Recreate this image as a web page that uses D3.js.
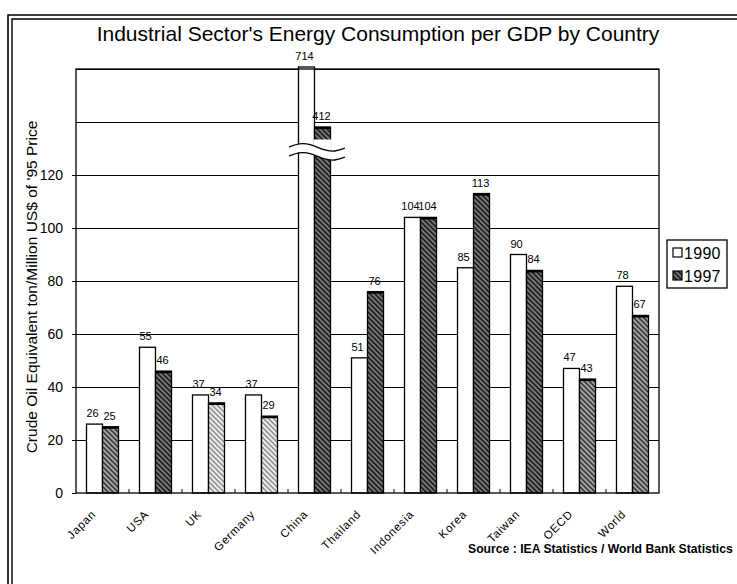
<!DOCTYPE html>
<html><head><meta charset="utf-8">
<script src="https://cdn.jsdelivr.net/npm/d3@7"></script>
<style>
body{margin:0;background:#fff}
svg{display:block}
text{font-family:"Liberation Sans",Arial,sans-serif;fill:#000}
</style>
</head><body>
<svg id="chart" width="737" height="584"></svg>
<script>
// Industrial energy intensity, 1990 vs 1997
const categories = ["Japan","USA","UK","Germany","China","Thailand","Indonesia","Korea","Taiwan","OECD","World"];
const values1990 = [26,55,37,37,714,51,104,85,90,47,78];
const values1997 = [25,46,34,29,412,76,104,113,84,43,67];
const seriesNames = ["1990","1997"];
const yTickValues = [0,20,40,60,80,100,120];
const gridValues = [20,40,60,80,100,120,140,160];
const titleText = "Industrial Sector's Energy Consumption per GDP by Country";
const yTitleText = "Crude Oil Equivalent ton/Million US$ of '95 Price";
const sourceText = "Source : IEA Statistics / World Bank Statistics";

// hatch density used for each 1997 bar
const shade1997 = ["mid","dark","light","light","dark","dark","dark","dark","dark","mid","mid"];

const svg = d3.select("#chart");
const P = {left:76, right:659, top:69, bottom:493};

// broken value axis: 0-160 linear, values beyond the break squeezed into the top strip
const yLow = d3.scaleLinear().domain([0,160]).range([P.bottom,P.top]);
const yHigh = d3.scaleLinear().domain([412,714]).range([127,67]);
const y = v => v <= 160 ? yLow(v) : yHigh(v);

const x = d3.scaleBand().domain(categories).range([P.left,P.right]);
const xs = d3.scaleBand().domain(seriesNames).range([10.5,42.5]);

// hatch patterns
const defs = svg.append("defs");
const pats = {
  dark:{bg:"#5a5a5a", line:"#1a1a1a", hi:"#b8b8b8"},
  mid:{bg:"#8a8a8a", line:"#333", hi:"#d8d8d8"},
  light:{bg:"#e4e4e4", line:"#888", hi:"#fff"}
};
Object.entries(pats).forEach(([k,c])=>{
  const p = defs.append("pattern").attr("id","hatch-"+k)
    .attr("patternUnits","userSpaceOnUse").attr("width",5).attr("height",5);
  p.append("rect").attr("width",5).attr("height",5).attr("fill",c.bg);
  p.append("path").attr("d","M-1,-1 L6,6 M-1,4 L1,6 M4,-1 L6,1").attr("stroke",c.line).attr("stroke-width",1.3);
  p.append("path").attr("d","M1.5,-1 L6,3.5 M-1,1.5 L3.5,6").attr("stroke",c.hi).attr("stroke-width",0.6);
});

// outer double frame (left and top)
const frame = svg.append("g").attr("stroke","#000").attr("fill","none");
frame.append("path").attr("d","M8,584 V15 H737").attr("stroke-width",1.6);
frame.append("path").attr("d","M12,584 V19 H737").attr("stroke-width",1.4);

// scale a text's font size so it spans the given width
function fitText(sel, width){
  const w = sel.node().getComputedTextLength();
  const fs = parseFloat(sel.attr("font-size"));
  sel.attr("font-size", fs*width/w);
}
const title = svg.append("text").attr("x",378).attr("y",41).attr("text-anchor","middle")
  .attr("font-size",20).text(titleText);
fitText(title, 563);

// gridlines
svg.append("g").selectAll("line").data(gridValues).join("line")
  .attr("x1",P.left).attr("x2",P.right)
  .attr("y1",d=>Math.round(yLow(d))+0.5).attr("y2",d=>Math.round(yLow(d))+0.5)
  .attr("stroke","#000").attr("stroke-width",1.1);

// y axis labels and ticks
const yAxis = d3.axisLeft(yLow).tickValues(yTickValues).tickSize(4).tickPadding(9).tickFormat(d3.format("d"));
const gy = svg.append("g").attr("transform",`translate(${P.left},0)`).call(yAxis);
gy.select(".domain").remove();
gy.selectAll("text").attr("font-size",14).attr("font-family","Liberation Sans, Arial, sans-serif");
gy.selectAll("line").attr("stroke","#000");

const yTitle = svg.append("text").attr("transform","translate(37,287) rotate(-90)")
  .attr("text-anchor","middle").attr("font-size",13).text(yTitleText);
fitText(yTitle, 333);

// bars
const groups = svg.append("g").selectAll("g").data(categories).join("g")
  .attr("transform",d=>`translate(${x(d)},0)`);

groups.append("rect").attr("class","b1990")
  .attr("x",xs("1990")).attr("width",xs.bandwidth())
  .attr("y",(d,i)=>y(values1990[i])).attr("height",(d,i)=>P.bottom-y(values1990[i]))
  .attr("fill","#fff").attr("stroke","#000").attr("stroke-width",1.3);

groups.append("rect").attr("class","b1997")
  .attr("x",xs("1997")).attr("width",xs.bandwidth())
  .attr("y",(d,i)=>y(values1997[i])).attr("height",(d,i)=>P.bottom-y(values1997[i]))
  .attr("fill",(d,i)=>`url(#hatch-${shade1997[i]})`).attr("stroke","#000").attr("stroke-width",1.3);
groups.append("line")
  .attr("x1",xs("1997")).attr("x2",xs("1997")+xs.bandwidth())
  .attr("y1",(d,i)=>y(values1997[i])+1).attr("y2",(d,i)=>y(values1997[i])+1)
  .attr("stroke","#000").attr("stroke-width",2.2);

// axis break across the China bars
const cx = x("China");
const breakTop = 139.5;
svg.append("rect").attr("x",cx+xs("1997")-1).attr("width",xs.bandwidth()+2)
  .attr("y",breakTop).attr("height",14).attr("fill","#fff");
const waveShape = [[0,0],[10,-4],[22,-3],[34,3],[46,5],[56,1]];
const waveX0 = cx + 1;
const wave = base => waveShape.map(([dx,dy])=>[waveX0+dx, base+dy]);
const line = d3.line().curve(d3.curveBasis);
const upper = wave(147), lower = wave(156);
svg.append("path")
  .attr("d", line(upper) + "L" + lower.slice().reverse().map(p=>p.join(",")).join("L") + "Z")
  .attr("fill","#fff");
[upper, lower].forEach(w=>svg.append("path").attr("d",line(w))
  .attr("fill","none").attr("stroke","#000").attr("stroke-width",1.3));

// plot frame
svg.append("rect").attr("x",P.left).attr("y",P.top).attr("width",P.right-P.left).attr("height",P.bottom-P.top)
  .attr("fill","none").attr("stroke","#000").attr("stroke-width",1.3);
// small ticks between categories
svg.append("g").selectAll("line").data(categories.slice(1)).join("line")
  .attr("x1",d=>x(d)).attr("x2",d=>x(d)).attr("y1",P.bottom).attr("y2",P.bottom-4)
  .attr("stroke","#000").attr("stroke-width",1);

// value labels
groups.append("text").attr("text-anchor","middle").attr("font-size",11)
  .attr("x",xs("1990")+xs.bandwidth()/2-2).attr("y",(d,i)=>y(values1990[i])-7)
  .text((d,i)=>values1990[i]);
groups.append("text").attr("text-anchor","middle").attr("font-size",11)
  .attr("x",xs("1997")+xs.bandwidth()/2-1).attr("y",(d,i)=>y(values1997[i])-7)
  .text((d,i)=>values1997[i]);

// category labels
svg.append("g").selectAll("text").data(categories).join("text")
  .attr("transform",d=>`translate(${x(d)+x.bandwidth()/2-6},515) rotate(-45)`)
  .attr("text-anchor","end").attr("font-size",11.5).attr("letter-spacing",0.7).text(d=>d);

// legend
const lg = svg.append("g");
lg.append("rect").attr("x",667).attr("y",240).attr("width",60).attr("height",48)
  .attr("fill","#fff").attr("stroke","#000").attr("stroke-width",1.3);
const items = lg.selectAll("g").data(seriesNames).join("g")
  .attr("transform",(d,i)=>`translate(673,${253+i*23})`);
items.append("rect").attr("x",0).attr("y",-5).attr("width",9).attr("height",9)
  .attr("fill",(d,i)=>i===0?"#fff":"url(#hatch-dark)").attr("stroke","#000").attr("stroke-width",1.2);
items.append("text").attr("x",11).attr("y",6).attr("font-size",16).attr("letter-spacing",0.3).text(d=>d);

// source note
const src = svg.append("text").attr("x",468).attr("y",553).attr("font-size",11)
  .attr("font-weight","bold").text(sourceText);
fitText(src, 265);
</script>
</body></html>
